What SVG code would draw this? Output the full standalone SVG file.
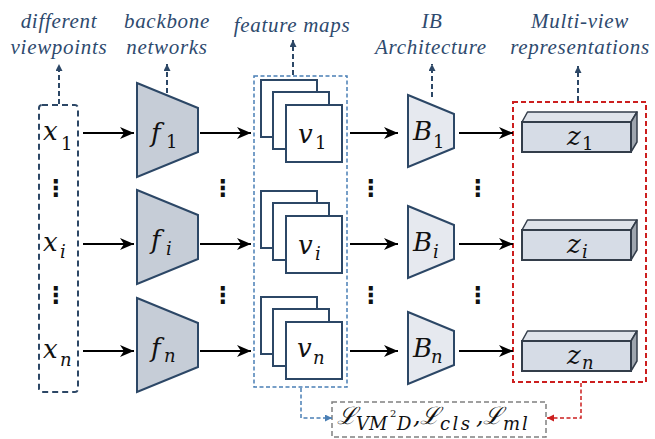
<svg xmlns="http://www.w3.org/2000/svg" width="655" height="439" viewBox="0 0 655 439">
<style>
.lbl{font-family:"Liberation Serif",serif;font-style:italic;font-size:21px;fill:#2e4a6e;text-anchor:middle;letter-spacing:0.7px}
.m{font-family:"DejaVu Serif","Liberation Serif",serif;font-style:italic;font-size:26px;fill:#111}
.s{font-size:18px}
.sn{font-style:normal}
.dots{font-family:"DejaVu Sans",sans-serif;font-weight:bold;font-size:23px;fill:#111;text-anchor:middle}
.trapf{fill:#c6cdd7;stroke:#2c4766;stroke-width:2}
.trapb{fill:#e6e9ef;stroke:#2c4766;stroke-width:2}
.sq{fill:#fff;stroke:#2c4766;stroke-width:2}
.zf{fill:#d6dce6;stroke:#333d4a;stroke-width:2}
.zt{fill:#dfe3ea;stroke:#333d4a;stroke-width:1.5;stroke-linejoin:round}
.zr{fill:#9ea5ae;stroke:#333d4a;stroke-width:1.5;stroke-linejoin:round}
.arr{stroke:#000;stroke-width:2;fill:none;marker-end:url(#ah)}
.up{stroke:#2c4766;stroke-width:2;fill:none;stroke-dasharray:5 3;marker-end:url(#uh)}
</style>
<defs>
<marker id="ah" markerUnits="userSpaceOnUse" markerWidth="16" markerHeight="12" refX="14" refY="6" orient="auto">
<path d="M0,0 L14,6 L0,12 L4,6 z" fill="#000"/>
</marker>
<marker id="uh" markerUnits="userSpaceOnUse" markerWidth="8" markerHeight="8" refX="7" refY="3.5" orient="auto">
<path d="M0,0 L7,3.5 L0,7 z" fill="#2c4766"/>
</marker>
<marker id="bh" markerUnits="userSpaceOnUse" markerWidth="8" markerHeight="8" refX="7" refY="3.5" orient="auto">
<path d="M0,0 L7,3.5 L0,7 z" fill="#4a7fb5"/>
</marker>
<marker id="rh" markerUnits="userSpaceOnUse" markerWidth="8" markerHeight="8" refX="7" refY="3.5" orient="auto">
<path d="M0,0 L7,3.5 L0,7 z" fill="#cc1f1f"/>
</marker>
<path id="ftrap" d="M0,-47 L61,-22 L61,22 L0,47 Z"/>
<path id="btrap" d="M0,-36 L46,-17 L46,17 L0,36 Z"/>
</defs>
<rect width="655" height="439" fill="#fff"/>

<g id="labels">
<text class="lbl" x="59" y="28">different</text>
<text class="lbl" x="59" y="54">viewpoints</text>
<text class="lbl" x="167" y="28">backbone</text>
<text class="lbl" x="167" y="54">networks</text>
<text class="lbl" x="292" y="32">feature maps</text>
<text class="lbl" x="432" y="28">IB</text>
<text class="lbl" x="431" y="54">Architecture</text>
<text class="lbl" x="580" y="28">Multi-view</text>
<text class="lbl" x="580" y="54">representations</text>
</g>

<g id="inputs">
<rect x="39" y="105" width="39" height="287" rx="3" fill="none" stroke="#2c4766" stroke-width="2" stroke-dasharray="6 4"/>
<text class="m" x="43" y="140">x<tspan class="s sn" x="61" y="150">1</tspan></text>
<text class="m" x="43" y="251">x<tspan class="s" x="60" y="258">i</tspan></text>
<text class="m" x="43" y="358">x<tspan class="s" x="60" y="366">n</tspan></text>
<text class="dots" x="56" y="196">⋮</text>
<text class="dots" x="56" y="303">⋮</text>
</g>

<g id="backbones">
<g id="f1"><use href="#ftrap" class="trapf" transform="translate(137,130)"/><text class="m" x="151" y="142">f<tspan class="s sn" x="166" y="148">1</tspan></text></g>
<g id="fi"><use href="#ftrap" class="trapf" transform="translate(137,237)"/><text class="m" x="151" y="249">f<tspan class="s" x="166" y="255">i</tspan></text></g>
<g id="fn"><use href="#ftrap" class="trapf" transform="translate(137,345)"/><text class="m" x="151" y="357">f<tspan class="s" x="164" y="362">n</tspan></text></g>
<text class="dots" x="223" y="196">⋮</text>
<text class="dots" x="223" y="303">⋮</text>
</g>

<g id="features">
<rect x="254" y="76" width="93" height="311" fill="none" stroke="#4a7fb5" stroke-width="1.5" stroke-dasharray="4 2.5"/>
<g id="v1">
<rect class="sq" x="261" y="80" width="56" height="57"/>
<rect class="sq" x="273" y="92" width="56" height="57"/>
<rect class="sq" x="286" y="105" width="56" height="57"/>
<text class="m" x="298" y="143">v<tspan class="s sn" x="315" y="149">1</tspan></text>
</g>
<g id="vi" transform="translate(0,111)">
<rect class="sq" x="261" y="80" width="56" height="57"/>
<rect class="sq" x="273" y="92" width="56" height="57"/>
<rect class="sq" x="286" y="105" width="56" height="57"/>
<text class="m" x="298" y="143">v<tspan class="s" x="315" y="149">i</tspan></text>
</g>
<g id="vn" transform="translate(0,217)">
<rect class="sq" x="261" y="80" width="56" height="57"/>
<rect class="sq" x="273" y="92" width="56" height="57"/>
<rect class="sq" x="286" y="105" width="56" height="57"/>
<text class="m" x="297" y="140">v<tspan class="s" x="313" y="147">n</tspan></text>
</g>
<text class="dots" x="371" y="196">⋮</text>
<text class="dots" x="371" y="303">⋮</text>
</g>

<g id="ib">
<g id="B1"><use href="#btrap" class="trapb" transform="translate(408,131)"/><text class="m" x="413" y="140">B<tspan class="s sn" x="433" y="148">1</tspan></text></g>
<g id="Bi"><use href="#btrap" class="trapb" transform="translate(408,242)"/><text class="m" x="413" y="251">B<tspan class="s" x="433" y="258">i</tspan></text></g>
<g id="Bn"><use href="#btrap" class="trapb" transform="translate(408,348)"/><text class="m" x="413" y="357">B<tspan class="s" x="431" y="363">n</tspan></text></g>
<text class="dots" x="478" y="196">⋮</text>
<text class="dots" x="478" y="303">⋮</text>
</g>

<g id="reps">
<rect x="513" y="102" width="133" height="280" fill="none" stroke="#cc1f1f" stroke-width="2" stroke-dasharray="5 3"/>
<g id="z1">
<path class="zt" d="M522,122 L527.5,112 L637,112 L631,122 Z"/>
<path class="zr" d="M631,122 L637,112 L637,142 L631,152 Z"/>
<rect class="zf" x="522" y="122" width="109" height="30"/>
<text class="m" x="567" y="145">z<tspan class="s sn" x="582" y="150">1</tspan></text>
</g>
<g id="zi" transform="translate(0,108)">
<path class="zt" d="M522,122 L527.5,112 L637,112 L631,122 Z"/>
<path class="zr" d="M631,122 L637,112 L637,142 L631,152 Z"/>
<rect class="zf" x="522" y="122" width="109" height="30"/>
<text class="m" x="567" y="145">z<tspan class="s" x="582" y="150">i</tspan></text>
</g>
<g id="zn" transform="translate(0,219)">
<path class="zt" d="M522,122 L527.5,112 L637,112 L631,122 Z"/>
<path class="zr" d="M631,122 L637,112 L637,142 L631,152 Z"/>
<rect class="zf" x="522" y="122" width="109" height="30"/>
<text class="m" x="567" y="145">z<tspan class="s" x="582" y="150">n</tspan></text>
</g>
</g>

<g id="loss">
<rect x="332" y="402" width="214" height="35" fill="none" stroke="#808080" stroke-width="1.5" stroke-dasharray="5 3"/>
<text class="m" style="font-size:24px">
<tspan x="337" y="424">ℒ</tspan><tspan class="s" x="356" y="430">VM</tspan><tspan class="sn" style="font-size:10px" x="390" y="417">2</tspan><tspan class="s" x="397" y="430">D</tspan><tspan x="413" y="424">,</tspan><tspan x="420" y="424">ℒ</tspan><tspan class="s" x="440" y="430" style="letter-spacing:2.5px">cls</tspan><tspan x="476" y="424">,</tspan><tspan x="483" y="424">ℒ</tspan><tspan class="s" x="503" y="430" style="letter-spacing:2px">ml</tspan>
</text>
</g>

<g id="connectors">
<path class="arr" d="M83,133 H134"/>
<path class="arr" d="M200,133 H251"/>
<path class="arr" d="M350,133 H398"/>
<path class="arr" d="M459,133 H513"/>
<path class="arr" d="M83,244 H134"/>
<path class="arr" d="M200,244 H251"/>
<path class="arr" d="M350,244 H398"/>
<path class="arr" d="M459,244 H513"/>
<path class="arr" d="M83,351 H134"/>
<path class="arr" d="M200,351 H251"/>
<path class="arr" d="M350,351 H398"/>
<path class="arr" d="M459,351 H513"/>
<path class="up" d="M59,104 V64"/>
<path class="up" d="M167,93 V64"/>
<path class="up" d="M293,75 V40"/>
<path class="up" d="M432,97 V64"/>
<path class="up" d="M578,101 V66"/>
<path d="M301,388 V418 H332" fill="none" stroke="#4a7fb5" stroke-width="1.5" stroke-dasharray="4 2.5" marker-end="url(#bh)"/>
<path d="M581,383 V418 H547" fill="none" stroke="#cc1f1f" stroke-width="1.5" stroke-dasharray="4 2.5" marker-end="url(#rh)"/>
</g>
</svg>
